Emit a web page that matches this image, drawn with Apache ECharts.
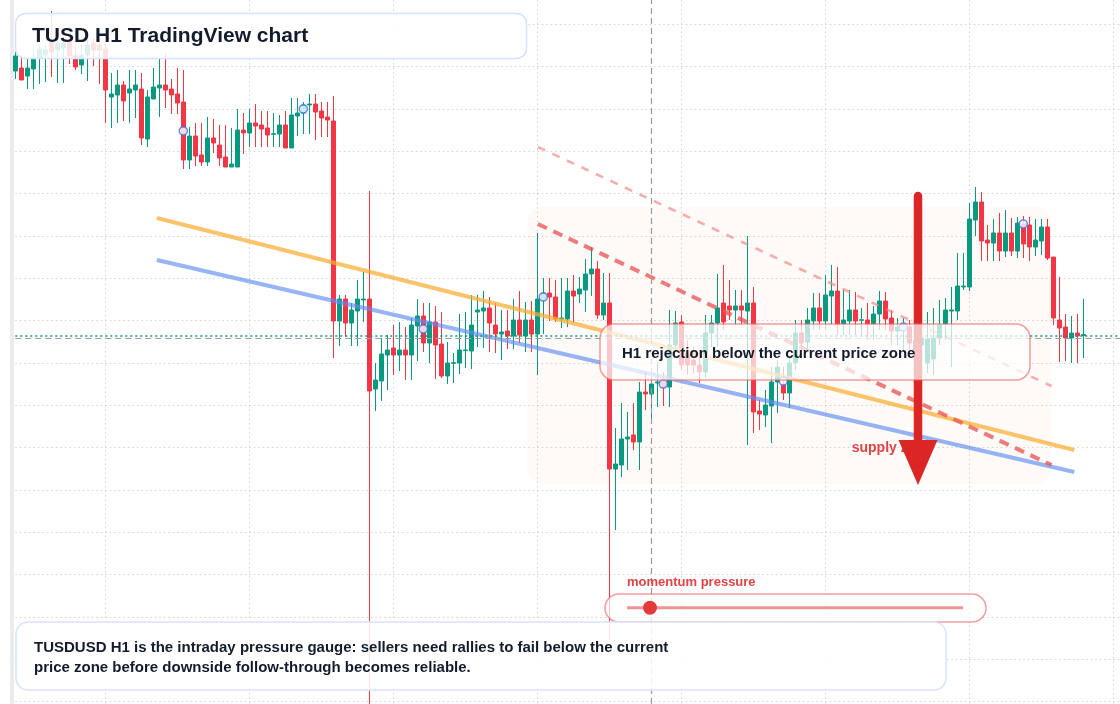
<!DOCTYPE html>
<html>
<head>
<meta charset="utf-8">
<script src="https://cdn.jsdelivr.net/npm/echarts@6/dist/echarts.min.js"></script>
<style>
  html, body { margin: 0; padding: 0; background: #fff; }
  #chart { width: 1120px; height: 704px; }
</style>
</head>
<body>
<div id="chart"></div>
<script>
// TUSD H1 candles (price in chart units, 1 unit ~ 1 px)
var opens = [673,676,668,675,686,689,702,694,696,702,
  689,679,689,701,699,695,647,649,659,651,
  654,655,605,645,656,659,655,650,642,584,
  608,589,582,606,599,587,577,577,614,611,
  621,619,616,609.7,610,619,596,628,631,639,
  640,633,627,623,423,445,421,433,444,445,
  355,363,389,396,389,394,389,418,428,401,
  422,400,368,380.7,381,393.3,393,432,433,436,
  419,410,413,408,424,408,424,410,444,451,
  447,425,425,453,450,454,470,475,429,441,
  275,279,305,309,302,352,350,361,362,357,
  399,422,391,384,379,372,411,421,441,438,
  434,438,433,441,333,329,338,362,359,351,
  381,411,402,423,436,423,448,453,420,423,
  434,423.7,424,420,430,443,426,413,414,417,
  394,399,381,385,406,420,433,433,457,457,
  524,542,504,501,511,493,511,493,520,519,
  497,503,517,487,424,417,406,411,408.5];
var closes = [688,664,676,686,695,694,692,701,701,688,
  677,689,699,694,694,654,650,659,643,655,
  659,606,647,657,659,654,649,641,584,608,
  588,582,606,601,586,577,580,614,611,621,
  618,615,609,610.3,619,596,629,631,639,640,
  632,626,624,423,445,421,434,445,445,353,
  364,390,394,389,394,389,419,428,401,422,
  399,368,381,381.3,394,394,419,434,436,421,
  410,412,408,424,409,424,410,445,451,447,
  425,426,453,448,455,470,475,429,441,275,
  280,305,307,302,352,350,360,362,357,399,
  421,379,379,379,372,411,421,436,422,434,
  438,434,441,332,330,339,362,377,351,381,
  411,401,424,436,423,449,453,419,424,434,
  423,424.3,420,430,443,425,413,417,419,401,
  404,406,405,406,419,434,434,458,458,525,
  542,503,501,511,493,511,493,521,500,497,
  504,517,486,426,416,406,411,408,409.5];
var lows = [665,664,655,655,660,662,667,661,661,680,
  674,670,663,678,660,621,616,621,623,621,
  626,599,597,645,627,636,630,630,575,575,
  578,578,578,591,578,577,577,577,590,597,
  597,597,597,597,597,596,596,608,610,610,
  604,607,607,386,398,407,398,398,422,39,
  333,343,354,369,373,364,364,383,392,381,
  365,366,360,361,370,376,375,397,396,392,
  391,384,395,395,401,392,392,369,410,423,
  422,416,417,421,441,432,448,425,424,104,
  214,267,274,294,274,334,324,337,338,337,
  394,374,369,371,361,366,397,397,414,424,
  419,419,299,311,314,317,301,331,344,336,
  374,389,394,414,414,414,419,409,409,409,
  409,409,404,404,414,414,399,399,394,389,
  379,374,371,369,399,404,377,424,454,453,
  508,483,483,483,483,487,488,486,486,483,
  488,489,484,419,382,383,381,381,386];
var highs = [699,689,686,694,700,699,733,706,707,708,
  699,700,706,706,704,701,671,674,663,674,
  674,671,654,676,686,691,665,676,674,617,
  621,621,627,625,619,619,616,635,631,635,
  640,633,633,631,629,633,646,646,642,650,
  650,642,642,648,449,449,441,464,472,553,
  381,406,409,419,422,417,426,445,441,441,
  438,432,402,391,430,432,449,449,453,447,
  441,434,434,445,453,442,443,511,466,466,
  464,466,466,469,467,485,497,483,471,471,
  316,341,332,341,362,372,367,382,372,434,
  433,429,404,397,394,429,429,470,479,464,
  454,454,508,457,344,354,377,384,377,387,
  424,424,436,451,451,469,479,477,454,454,
  452,436,441,438,453,452,434,426,426,424,
  414,419,432,436,444,446,457,491,491,541,
  557,552,519,525,531,534,526,527,528,527,
  525,525,525,487,467,430,428,430,445];

// session markers (bar index, price)
var markerIdx = [28, 48, 68, 88, 108, 128, 148, 168];
var markerVal = [613, 635, 415, 447, 360, 363, 417, 520];

// drawn levels, [bar, price] end points
var upperTrend = [[23.6, 526], [176.5, 294]];
var lowerTrend = [[23.6, 484], [176.5, 272]];
var supplyEdge = [[87.1, 520], [172.7, 279]];
var supplyTop = [[87.1, 597], [172.7, 358]];
var supplyZone = [[85.3, 537], [172.7, 260]];
var arrowBar = 150.45, arrowFrom = 548, arrowBase = 304, arrowTip = 259;
var lastPrice = 408.7, bidLine = 405.7, cursorBar = 106;

var slots = 186;
var hours = [];
for (var i = 0; i < slots; i++) hours.push('H' + i);

var candles = opens.map(function (o, i) {
  return [o, closes[i], lows[i], highs[i]];
});

var grid = '#d3d3d3';
var chart = echarts.init(document.getElementById('chart'));

chart.setOption({
  animation: false,
  backgroundColor: '#fff',
  grid: { left: 15.3, right: -5.3, top: -18, bottom: -40, outerBoundsMode: 'none', containLabel: false },
  xAxis: [{
    type: 'category', data: hours, boundaryGap: false,
    axisLine: { show: false }, axisTick: { show: false }, axisLabel: { show: false },
    splitLine: {
      show: true,
      interval: function (idx) { return (idx - 15) % 24 === 0; },
      lineStyle: { color: grid, type: [1.5, 3], width: 1 }
    }
  }, {
    type: 'value', min: 0, max: slots - 1, show: false
  }],
  yAxis: {
    type: 'value', min: 0, max: 762, interval: 42.333,
    axisLine: { show: false }, axisTick: { show: false }, axisLabel: { show: false },
    splitLine: { lineStyle: { color: grid, type: [1.5, 3], width: 1 } }
  },
  series: [{
    type: 'line', data: [], z: 1,
    markLine: {
      silent: true, symbol: 'none', label: { show: false },
      data: [
        { yAxis: lastPrice, lineStyle: { color: '#089981', type: [2, 3], width: 1.5 } },
        { yAxis: bidLine, lineStyle: { color: '#9e9e9e', type: [6, 4], width: 1.2 } },
        { xAxis: cursorBar, lineStyle: { color: '#9a9a9a', type: [6, 4], width: 1.2 } }
      ]
    }
  }, {
    type: 'candlestick', data: candles, barWidth: 5, clip: false, z: 2,
    itemStyle: {
      color: '#089981', color0: '#f23645',
      borderColor: '#089981', borderColor0: '#f23645', borderWidth: 1
    }
  }, {
    type: 'line', xAxisIndex: 1, data: upperTrend, symbol: 'none', z: 3,
    lineStyle: { color: 'rgba(250,172,50,0.72)', width: 4 }
  }, {
    type: 'line', xAxisIndex: 1, data: lowerTrend, symbol: 'none', z: 3,
    lineStyle: { color: 'rgba(95,140,240,0.65)', width: 4 }
  }, {
    type: 'line', xAxisIndex: 1, data: supplyEdge, symbol: 'none', z: 3,
    lineStyle: { color: 'rgba(230,80,80,0.75)', width: 4, type: [10, 7] }
  }, {
    type: 'line', xAxisIndex: 1, data: supplyTop, symbol: 'none', z: 3,
    lineStyle: { color: 'rgba(240,130,130,0.65)', width: 2.5, type: [8, 8] }
  }, {
    type: 'scatter', xAxisIndex: 1, z: 4,
    data: markerIdx.map(function (b, i) { return [b, markerVal[i]]; }),
    symbol: 'circle', symbolSize: 8,
    itemStyle: { color: '#fff', borderColor: '#3f72ee', borderWidth: 1.6 }
  }]
});

function px(pt) {
  return chart.convertToPixel({ xAxisIndex: 1, yAxisIndex: 0 }, pt);
}

var z0 = px(supplyZone[0]), z1 = px(supplyZone[1]);
var aTop = px([arrowBar, arrowFrom]);
var aBase = px([arrowBar, arrowBase]);
var aTip = px([arrowBar, arrowTip]);
var half = 19.5;
var lbl = px([139.4, 296]);
var font = '"Liberation Sans", Arial, sans-serif';

chart.setOption({
  graphic: [
    { type: 'rect', z: 0, silent: true,
      shape: { x: 10, y: 0, width: 4, height: 704 },
      style: { fill: '#ebebeb' } },
    { type: 'rect', z: 1, silent: true,
      shape: { x: z0[0], y: z0[1], width: z1[0] - z0[0], height: z1[1] - z0[1], r: 16 },
      style: { fill: 'rgba(240,160,100,0.05)' } },
    { type: 'text', z: 5, silent: true,
      style: { text: 'supply zone', x: lbl[0], y: lbl[1], fill: '#e04444',
        font: 'bold 14px ' + font, textVerticalAlign: 'middle', verticalAlign: 'middle' } },
    { type: 'line', z: 6, silent: true,
      shape: { x1: aTop[0], y1: aTop[1], x2: aBase[0], y2: aBase[1] + 2 },
      style: { stroke: '#dc2626', lineWidth: 8.5, lineCap: 'round' } },
    { type: 'polygon', z: 6, silent: true,
      shape: { points: [[aBase[0] - half, aBase[1]], [aBase[0] + half, aBase[1]], [aTip[0], aTip[1]]] },
      style: { fill: '#dc2626' } },

    // title card
    { type: 'rect', z: 10, silent: true,
      shape: { x: 15.5, y: 13.5, width: 511, height: 45, r: 10 },
      style: { fill: 'rgba(255,255,255,0.86)', stroke: '#d6e3fa', lineWidth: 1.5 } },
    { type: 'text', z: 11, silent: true,
      style: { text: 'TUSD H1 TradingView chart', x: 32, y: 36, fill: '#141b2d',
        font: 'bold 21px ' + font, textVerticalAlign: 'middle', verticalAlign: 'middle' } },

    // rejection note
    { type: 'rect', z: 10, silent: true,
      shape: { x: 600, y: 324, width: 430, height: 56, r: 14 },
      style: { fill: 'rgba(255,255,255,0.72)', stroke: 'rgba(232,95,95,0.6)', lineWidth: 1.5 } },
    { type: 'text', z: 11, silent: true,
      style: { text: 'H1 rejection below the current price zone', x: 622, y: 354, fill: '#141b2d',
        font: 'bold 15px ' + font, textVerticalAlign: 'middle', verticalAlign: 'middle' } },

    // momentum gauge
    { type: 'text', z: 11, silent: true,
      style: { text: 'momentum pressure', x: 627, y: 582.5, fill: '#e04444',
        font: 'bold 13px ' + font, textVerticalAlign: 'middle', verticalAlign: 'middle' } },
    { type: 'rect', z: 10, silent: true,
      shape: { x: 605, y: 594, width: 381, height: 28, r: 14 },
      style: { fill: 'rgba(255,255,255,0.7)', stroke: 'rgba(232,95,95,0.6)', lineWidth: 1.5 } },
    { type: 'line', z: 11, silent: true,
      shape: { x1: 627, y1: 607.7, x2: 963, y2: 607.7 },
      style: { stroke: 'rgba(232,90,90,0.65)', lineWidth: 3 } },
    { type: 'circle', z: 12, silent: true,
      shape: { cx: 650, cy: 607.7, r: 7 },
      style: { fill: '#e03a3a' } },

    // summary card
    { type: 'rect', z: 13, silent: true,
      shape: { x: 16, y: 622, width: 930, height: 68, r: 12 },
      style: { fill: 'rgba(255,255,255,0.86)', stroke: '#d6e3fa', lineWidth: 1.5 } },
    { type: 'text', z: 14, silent: true,
      style: { text: 'TUSDUSD H1 is the intraday pressure gauge: sellers need rallies to fail below the current',
        x: 34, y: 648, fill: '#141b2d', font: 'bold 15px ' + font,
        textVerticalAlign: 'middle', verticalAlign: 'middle' } },
    { type: 'text', z: 14, silent: true,
      style: { text: 'price zone before downside follow-through becomes reliable.',
        x: 34, y: 668, fill: '#141b2d', font: 'bold 15px ' + font,
        textVerticalAlign: 'middle', verticalAlign: 'middle' } }
  ]
});
</script>
</body>
</html>
